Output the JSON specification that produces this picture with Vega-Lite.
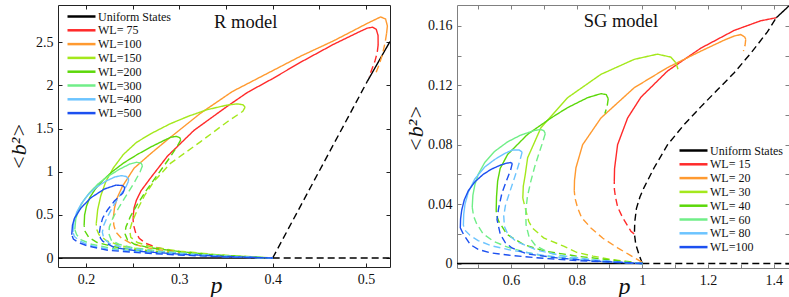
{
"$schema": "https://vega.github.io/schema/vega-lite/v6.json",
"background": "white",
"padding": {"left": 6, "top": 4, "right": 0, "bottom": 0},
"bounds": "flush",
"spacing": 67,
"config": {
  "font": "Liberation Serif, DejaVu Serif, serif",
  "axis": {"labelFont": "Liberation Serif, DejaVu Serif, serif", "labelFontSize": 14, "labelColor": "#111", "grid": false, "domain": false, "tickSize": -4, "tickWidth": 1, "labelPadding": 9, "format": "~g", "titleFont": "Liberation Serif, DejaVu Serif, serif", "titleFontWeight": "normal", "titleColor": "#111"},
  "legend": {"orient": "none", "title": null, "symbolType": "M-1,0H4.6", "symbolSize": 100, "symbolStrokeWidth": 2.5, "labelFont": "Liberation Serif, DejaVu Serif, serif", "labelFontSize": 12, "labelColor": "#111", "labelOffset": 19, "rowPadding": 0.8, "padding": 0}
},
"resolve": {"scale": {"color": "independent", "strokeDash": "independent"}},
"datasets": {
"R": [
{"s":"Uniform States","g":"u0","d":"solid","i":0,"p":0.17,"b":0},
{"s":"Uniform States","g":"u0","d":"solid","i":1,"p":0.4,"b":0},
{"s":"Uniform States","g":"u1","d":"dashed","i":0,"p":0.4,"b":0},
{"s":"Uniform States","g":"u1","d":"dashed","i":1,"p":0.5257,"b":0},
{"s":"Uniform States","g":"u2","d":"dashed","i":0,"p":0.4,"b":0},
{"s":"Uniform States","g":"u2","d":"dashed","i":1,"p":0.45,"b":1.01},
{"s":"Uniform States","g":"u2","d":"dashed","i":2,"p":0.5015,"b":2.05},
{"s":"Uniform States","g":"u3","d":"solid","i":0,"p":0.5015,"b":2.05},
{"s":"Uniform States","g":"u3","d":"solid","i":1,"p":0.5257,"b":2.51},

{"s":"WL= 75","g":"a","d":"dashed","i":0,"p":0.4,"b":0},
{"s":"WL= 75","g":"a","d":"dashed","i":1,"p":0.37,"b":0.012},
{"s":"WL= 75","g":"a","d":"dashed","i":2,"p":0.34,"b":0.03},
{"s":"WL= 75","g":"a","d":"dashed","i":3,"p":0.31,"b":0.058},
{"s":"WL= 75","g":"a","d":"dashed","i":4,"p":0.29,"b":0.088},
{"s":"WL= 75","g":"a","d":"dashed","i":5,"p":0.275,"b":0.125},
{"s":"WL= 75","g":"a","d":"dashed","i":6,"p":0.264,"b":0.17},
{"s":"WL= 75","g":"a","d":"dashed","i":7,"p":0.257,"b":0.23},
{"s":"WL= 75","g":"a","d":"dashed","i":8,"p":0.253,"b":0.3},
{"s":"WL= 75","g":"a","d":"dashed","i":9,"p":0.251,"b":0.38},
{"s":"WL= 75","g":"a","d":"dashed","i":10,"p":0.2505,"b":0.44},
{"s":"WL= 75","g":"a","d":"dashed","i":11,"p":0.2507,"b":0.5},
{"s":"WL= 75","g":"b","d":"solid","i":0,"p":0.2507,"b":0.5},
{"s":"WL= 75","g":"b","d":"solid","i":1,"p":0.2515,"b":0.58},
{"s":"WL= 75","g":"b","d":"solid","i":2,"p":0.254,"b":0.67},
{"s":"WL= 75","g":"b","d":"solid","i":3,"p":0.259,"b":0.78},
{"s":"WL= 75","g":"b","d":"solid","i":4,"p":0.2693,"b":0.93},
{"s":"WL= 75","g":"b","d":"solid","i":5,"p":0.2872,"b":1.18},
{"s":"WL= 75","g":"b","d":"solid","i":6,"p":0.3157,"b":1.48},
{"s":"WL= 75","g":"b","d":"solid","i":7,"p":0.3515,"b":1.76},
{"s":"WL= 75","g":"b","d":"solid","i":8,"p":0.373,"b":1.92},
{"s":"WL= 75","g":"b","d":"solid","i":9,"p":0.4,"b":2.08},
{"s":"WL= 75","g":"b","d":"solid","i":10,"p":0.43,"b":2.27},
{"s":"WL= 75","g":"b","d":"solid","i":11,"p":0.4657,"b":2.48},
{"s":"WL= 75","g":"b","d":"solid","i":12,"p":0.4943,"b":2.63},
{"s":"WL= 75","g":"b","d":"solid","i":13,"p":0.5014,"b":2.665},
{"s":"WL= 75","g":"b","d":"solid","i":14,"p":0.507,"b":2.675},
{"s":"WL= 75","g":"b","d":"solid","i":15,"p":0.511,"b":2.65},
{"s":"WL= 75","g":"b","d":"solid","i":16,"p":0.5129,"b":2.58},
{"s":"WL= 75","g":"b","d":"solid","i":17,"p":0.513,"b":2.47},
{"s":"WL= 75","g":"c","d":"dashed","i":0,"p":0.513,"b":2.47},
{"s":"WL= 75","g":"c","d":"dashed","i":1,"p":0.512,"b":2.38},
{"s":"WL= 75","g":"c","d":"dashed","i":2,"p":0.5095,"b":2.28},
{"s":"WL= 75","g":"c","d":"dashed","i":3,"p":0.506,"b":2.18},
{"s":"WL= 75","g":"c","d":"dashed","i":4,"p":0.5033,"b":2.1},

{"s":"WL=100","g":"a","d":"dashed","i":0,"p":0.4,"b":0},
{"s":"WL=100","g":"a","d":"dashed","i":1,"p":0.36,"b":0.015},
{"s":"WL=100","g":"a","d":"dashed","i":2,"p":0.32,"b":0.04},
{"s":"WL=100","g":"a","d":"dashed","i":3,"p":0.29,"b":0.075},
{"s":"WL=100","g":"a","d":"dashed","i":4,"p":0.265,"b":0.12},
{"s":"WL=100","g":"a","d":"dashed","i":5,"p":0.248,"b":0.17},
{"s":"WL=100","g":"a","d":"dashed","i":6,"p":0.238,"b":0.23},
{"s":"WL=100","g":"a","d":"dashed","i":7,"p":0.232,"b":0.3},
{"s":"WL=100","g":"a","d":"dashed","i":8,"p":0.2298,"b":0.38},
{"s":"WL=100","g":"a","d":"dashed","i":9,"p":0.2293,"b":0.465},
{"s":"WL=100","g":"b","d":"solid","i":0,"p":0.2293,"b":0.465},
{"s":"WL=100","g":"b","d":"solid","i":1,"p":0.2305,"b":0.58},
{"s":"WL=100","g":"b","d":"solid","i":2,"p":0.2335,"b":0.7},
{"s":"WL=100","g":"b","d":"solid","i":3,"p":0.239,"b":0.83},
{"s":"WL=100","g":"b","d":"solid","i":4,"p":0.2514,"b":1.04},
{"s":"WL=100","g":"b","d":"solid","i":5,"p":0.2693,"b":1.21},
{"s":"WL=100","g":"b","d":"solid","i":6,"p":0.2871,"b":1.37},
{"s":"WL=100","g":"b","d":"solid","i":7,"p":0.3229,"b":1.68},
{"s":"WL=100","g":"b","d":"solid","i":8,"p":0.3568,"b":1.93},
{"s":"WL=100","g":"b","d":"solid","i":9,"p":0.3943,"b":2.14},
{"s":"WL=100","g":"b","d":"solid","i":10,"p":0.43,"b":2.34},
{"s":"WL=100","g":"b","d":"solid","i":11,"p":0.4657,"b":2.52},
{"s":"WL=100","g":"b","d":"solid","i":12,"p":0.5014,"b":2.72},
{"s":"WL=100","g":"b","d":"solid","i":13,"p":0.5157,"b":2.795},
{"s":"WL=100","g":"b","d":"solid","i":14,"p":0.521,"b":2.77},
{"s":"WL=100","g":"b","d":"solid","i":15,"p":0.5229,"b":2.69},
{"s":"WL=100","g":"b","d":"solid","i":16,"p":0.522,"b":2.6},
{"s":"WL=100","g":"c","d":"dashed","i":0,"p":0.522,"b":2.6},
{"s":"WL=100","g":"c","d":"dashed","i":1,"p":0.5205,"b":2.5},
{"s":"WL=100","g":"c","d":"dashed","i":2,"p":0.5176,"b":2.36},
{"s":"WL=100","g":"c","d":"dashed","i":3,"p":0.514,"b":2.24},
{"s":"WL=100","g":"c","d":"dashed","i":4,"p":0.5104,"b":2.14},

{"s":"WL=150","g":"a","d":"dashed","i":0,"p":0.4,"b":0},
{"s":"WL=150","g":"a","d":"dashed","i":1,"p":0.35,"b":0.022},
{"s":"WL=150","g":"a","d":"dashed","i":2,"p":0.3,"b":0.055},
{"s":"WL=150","g":"a","d":"dashed","i":3,"p":0.265,"b":0.09},
{"s":"WL=150","g":"a","d":"dashed","i":4,"p":0.238,"b":0.14},
{"s":"WL=150","g":"a","d":"dashed","i":5,"p":0.222,"b":0.2},
{"s":"WL=150","g":"a","d":"dashed","i":6,"p":0.214,"b":0.27},
{"s":"WL=150","g":"a","d":"dashed","i":7,"p":0.2112,"b":0.34},
{"s":"WL=150","g":"a","d":"dashed","i":8,"p":0.211,"b":0.4},
{"s":"WL=150","g":"b","d":"solid","i":0,"p":0.211,"b":0.4},
{"s":"WL=150","g":"b","d":"solid","i":1,"p":0.2125,"b":0.56},
{"s":"WL=150","g":"b","d":"solid","i":2,"p":0.2158,"b":0.72},
{"s":"WL=150","g":"b","d":"solid","i":3,"p":0.221,"b":0.88},
{"s":"WL=150","g":"b","d":"solid","i":4,"p":0.229,"b":1.04},
{"s":"WL=150","g":"b","d":"solid","i":5,"p":0.24,"b":1.2},
{"s":"WL=150","g":"b","d":"solid","i":6,"p":0.254,"b":1.34},
{"s":"WL=150","g":"b","d":"solid","i":7,"p":0.2693,"b":1.44},
{"s":"WL=150","g":"b","d":"solid","i":8,"p":0.29,"b":1.555},
{"s":"WL=150","g":"b","d":"solid","i":9,"p":0.31,"b":1.645},
{"s":"WL=150","g":"b","d":"solid","i":10,"p":0.33,"b":1.72},
{"s":"WL=150","g":"b","d":"solid","i":11,"p":0.35,"b":1.77},
{"s":"WL=150","g":"b","d":"solid","i":12,"p":0.362,"b":1.787},
{"s":"WL=150","g":"b","d":"solid","i":13,"p":0.368,"b":1.777},
{"s":"WL=150","g":"b","d":"solid","i":14,"p":0.3705,"b":1.75},
{"s":"WL=150","g":"c","d":"dashed","i":0,"p":0.3705,"b":1.75},
{"s":"WL=150","g":"c","d":"dashed","i":1,"p":0.368,"b":1.7},
{"s":"WL=150","g":"c","d":"dashed","i":2,"p":0.3515,"b":1.58},
{"s":"WL=150","g":"c","d":"dashed","i":3,"p":0.3229,"b":1.35},
{"s":"WL=150","g":"c","d":"dashed","i":4,"p":0.2908,"b":1.1},
{"s":"WL=150","g":"c","d":"dashed","i":5,"p":0.2729,"b":0.89},
{"s":"WL=150","g":"c","d":"dashed","i":6,"p":0.263,"b":0.73},
{"s":"WL=150","g":"c","d":"dashed","i":7,"p":0.2555,"b":0.57},
{"s":"WL=150","g":"c","d":"dashed","i":8,"p":0.2495,"b":0.42},
{"s":"WL=150","g":"c","d":"dashed","i":9,"p":0.2468,"b":0.32},
{"s":"WL=150","g":"c","d":"dashed","i":10,"p":0.248,"b":0.24},
{"s":"WL=150","g":"c","d":"dashed","i":11,"p":0.255,"b":0.18},
{"s":"WL=150","g":"c","d":"dashed","i":12,"p":0.27,"b":0.13},
{"s":"WL=150","g":"c","d":"dashed","i":13,"p":0.3,"b":0.08},
{"s":"WL=150","g":"c","d":"dashed","i":14,"p":0.34,"b":0.04},
{"s":"WL=150","g":"c","d":"dashed","i":15,"p":0.4,"b":0},

{"s":"WL=200","g":"a","d":"dashed","i":0,"p":0.4,"b":0},
{"s":"WL=200","g":"a","d":"dashed","i":1,"p":0.35,"b":0.02},
{"s":"WL=200","g":"a","d":"dashed","i":2,"p":0.3,"b":0.05},
{"s":"WL=200","g":"a","d":"dashed","i":3,"p":0.26,"b":0.085},
{"s":"WL=200","g":"a","d":"dashed","i":4,"p":0.23,"b":0.13},
{"s":"WL=200","g":"a","d":"dashed","i":5,"p":0.212,"b":0.18},
{"s":"WL=200","g":"a","d":"dashed","i":6,"p":0.203,"b":0.24},
{"s":"WL=200","g":"a","d":"dashed","i":7,"p":0.199,"b":0.31},
{"s":"WL=200","g":"a","d":"dashed","i":8,"p":0.198,"b":0.38},
{"s":"WL=200","g":"b","d":"solid","i":0,"p":0.198,"b":0.38},
{"s":"WL=200","g":"b","d":"solid","i":1,"p":0.1985,"b":0.5},
{"s":"WL=200","g":"b","d":"solid","i":2,"p":0.2005,"b":0.6},
{"s":"WL=200","g":"b","d":"solid","i":3,"p":0.204,"b":0.7},
{"s":"WL=200","g":"b","d":"solid","i":4,"p":0.21,"b":0.8},
{"s":"WL=200","g":"b","d":"solid","i":5,"p":0.218,"b":0.9},
{"s":"WL=200","g":"b","d":"solid","i":6,"p":0.228,"b":1.0},
{"s":"WL=200","g":"b","d":"solid","i":7,"p":0.24,"b":1.1},
{"s":"WL=200","g":"b","d":"solid","i":8,"p":0.255,"b":1.2},
{"s":"WL=200","g":"b","d":"solid","i":9,"p":0.27,"b":1.29},
{"s":"WL=200","g":"b","d":"solid","i":10,"p":0.283,"b":1.36},
{"s":"WL=200","g":"b","d":"solid","i":11,"p":0.2907,"b":1.4},
{"s":"WL=200","g":"b","d":"solid","i":12,"p":0.297,"b":1.41},
{"s":"WL=200","g":"b","d":"solid","i":13,"p":0.3005,"b":1.395},
{"s":"WL=200","g":"b","d":"solid","i":14,"p":0.3015,"b":1.37},
{"s":"WL=200","g":"c","d":"dashed","i":0,"p":0.3015,"b":1.37},
{"s":"WL=200","g":"c","d":"dashed","i":1,"p":0.298,"b":1.3},
{"s":"WL=200","g":"c","d":"dashed","i":2,"p":0.2908,"b":1.18},
{"s":"WL=200","g":"c","d":"dashed","i":3,"p":0.2836,"b":1.07},
{"s":"WL=200","g":"c","d":"dashed","i":4,"p":0.275,"b":0.94},
{"s":"WL=200","g":"c","d":"dashed","i":5,"p":0.265,"b":0.79},
{"s":"WL=200","g":"c","d":"dashed","i":6,"p":0.2555,"b":0.63},
{"s":"WL=200","g":"c","d":"dashed","i":7,"p":0.2475,"b":0.48},
{"s":"WL=200","g":"c","d":"dashed","i":8,"p":0.2428,"b":0.36},
{"s":"WL=200","g":"c","d":"dashed","i":9,"p":0.2418,"b":0.28},
{"s":"WL=200","g":"c","d":"dashed","i":10,"p":0.2445,"b":0.21},
{"s":"WL=200","g":"c","d":"dashed","i":11,"p":0.252,"b":0.16},
{"s":"WL=200","g":"c","d":"dashed","i":12,"p":0.268,"b":0.12},
{"s":"WL=200","g":"c","d":"dashed","i":13,"p":0.3,"b":0.075},
{"s":"WL=200","g":"c","d":"dashed","i":14,"p":0.34,"b":0.035},
{"s":"WL=200","g":"c","d":"dashed","i":15,"p":0.4,"b":0},

{"s":"WL=300","g":"a","d":"dashed","i":0,"p":0.4,"b":0},
{"s":"WL=300","g":"a","d":"dashed","i":1,"p":0.35,"b":0.016},
{"s":"WL=300","g":"a","d":"dashed","i":2,"p":0.3,"b":0.045},
{"s":"WL=300","g":"a","d":"dashed","i":3,"p":0.26,"b":0.075},
{"s":"WL=300","g":"a","d":"dashed","i":4,"p":0.228,"b":0.11},
{"s":"WL=300","g":"a","d":"dashed","i":5,"p":0.206,"b":0.16},
{"s":"WL=300","g":"a","d":"dashed","i":6,"p":0.195,"b":0.21},
{"s":"WL=300","g":"a","d":"dashed","i":7,"p":0.19,"b":0.27},
{"s":"WL=300","g":"a","d":"dashed","i":8,"p":0.188,"b":0.33},
{"s":"WL=300","g":"b","d":"solid","i":0,"p":0.188,"b":0.33},
{"s":"WL=300","g":"b","d":"solid","i":1,"p":0.189,"b":0.45},
{"s":"WL=300","g":"b","d":"solid","i":2,"p":0.192,"b":0.56},
{"s":"WL=300","g":"b","d":"solid","i":3,"p":0.197,"b":0.66},
{"s":"WL=300","g":"b","d":"solid","i":4,"p":0.204,"b":0.76},
{"s":"WL=300","g":"b","d":"solid","i":5,"p":0.213,"b":0.86},
{"s":"WL=300","g":"b","d":"solid","i":6,"p":0.224,"b":0.95},
{"s":"WL=300","g":"b","d":"solid","i":7,"p":0.236,"b":1.03},
{"s":"WL=300","g":"b","d":"solid","i":8,"p":0.247,"b":1.09},
{"s":"WL=300","g":"b","d":"solid","i":9,"p":0.254,"b":1.11},
{"s":"WL=300","g":"b","d":"solid","i":10,"p":0.259,"b":1.1},
{"s":"WL=300","g":"b","d":"solid","i":11,"p":0.2605,"b":1.07},
{"s":"WL=300","g":"c","d":"dashed","i":0,"p":0.2605,"b":1.07},
{"s":"WL=300","g":"c","d":"dashed","i":1,"p":0.258,"b":1.0},
{"s":"WL=300","g":"c","d":"dashed","i":2,"p":0.252,"b":0.88},
{"s":"WL=300","g":"c","d":"dashed","i":3,"p":0.244,"b":0.74},
{"s":"WL=300","g":"c","d":"dashed","i":4,"p":0.236,"b":0.6},
{"s":"WL=300","g":"c","d":"dashed","i":5,"p":0.229,"b":0.47},
{"s":"WL=300","g":"c","d":"dashed","i":6,"p":0.225,"b":0.36},
{"s":"WL=300","g":"c","d":"dashed","i":7,"p":0.2245,"b":0.28},
{"s":"WL=300","g":"c","d":"dashed","i":8,"p":0.227,"b":0.21},
{"s":"WL=300","g":"c","d":"dashed","i":9,"p":0.235,"b":0.16},
{"s":"WL=300","g":"c","d":"dashed","i":10,"p":0.25,"b":0.12},
{"s":"WL=300","g":"c","d":"dashed","i":11,"p":0.28,"b":0.08},
{"s":"WL=300","g":"c","d":"dashed","i":12,"p":0.32,"b":0.045},
{"s":"WL=300","g":"c","d":"dashed","i":13,"p":0.36,"b":0.02},
{"s":"WL=300","g":"c","d":"dashed","i":14,"p":0.4,"b":0},

{"s":"WL=400","g":"a","d":"dashed","i":0,"p":0.4,"b":0},
{"s":"WL=400","g":"a","d":"dashed","i":1,"p":0.35,"b":0.014},
{"s":"WL=400","g":"a","d":"dashed","i":2,"p":0.3,"b":0.04},
{"s":"WL=400","g":"a","d":"dashed","i":3,"p":0.26,"b":0.068},
{"s":"WL=400","g":"a","d":"dashed","i":4,"p":0.225,"b":0.1},
{"s":"WL=400","g":"a","d":"dashed","i":5,"p":0.203,"b":0.15},
{"s":"WL=400","g":"a","d":"dashed","i":6,"p":0.193,"b":0.2},
{"s":"WL=400","g":"a","d":"dashed","i":7,"p":0.1875,"b":0.25},
{"s":"WL=400","g":"a","d":"dashed","i":8,"p":0.186,"b":0.3},
{"s":"WL=400","g":"b","d":"solid","i":0,"p":0.186,"b":0.3},
{"s":"WL=400","g":"b","d":"solid","i":1,"p":0.187,"b":0.42},
{"s":"WL=400","g":"b","d":"solid","i":2,"p":0.19,"b":0.53},
{"s":"WL=400","g":"b","d":"solid","i":3,"p":0.195,"b":0.63},
{"s":"WL=400","g":"b","d":"solid","i":4,"p":0.202,"b":0.73},
{"s":"WL=400","g":"b","d":"solid","i":5,"p":0.211,"b":0.82},
{"s":"WL=400","g":"b","d":"solid","i":6,"p":0.221,"b":0.89},
{"s":"WL=400","g":"b","d":"solid","i":7,"p":0.231,"b":0.94},
{"s":"WL=400","g":"b","d":"solid","i":8,"p":0.238,"b":0.955},
{"s":"WL=400","g":"b","d":"solid","i":9,"p":0.243,"b":0.945},
{"s":"WL=400","g":"b","d":"solid","i":10,"p":0.2455,"b":0.92},
{"s":"WL=400","g":"b","d":"solid","i":11,"p":0.2455,"b":0.89},
{"s":"WL=400","g":"c","d":"dashed","i":0,"p":0.2455,"b":0.89},
{"s":"WL=400","g":"c","d":"dashed","i":1,"p":0.243,"b":0.83},
{"s":"WL=400","g":"c","d":"dashed","i":2,"p":0.236,"b":0.72},
{"s":"WL=400","g":"c","d":"dashed","i":3,"p":0.229,"b":0.6},
{"s":"WL=400","g":"c","d":"dashed","i":4,"p":0.223,"b":0.48},
{"s":"WL=400","g":"c","d":"dashed","i":5,"p":0.219,"b":0.38},
{"s":"WL=400","g":"c","d":"dashed","i":6,"p":0.2175,"b":0.3},
{"s":"WL=400","g":"c","d":"dashed","i":7,"p":0.219,"b":0.23},
{"s":"WL=400","g":"c","d":"dashed","i":8,"p":0.225,"b":0.17},
{"s":"WL=400","g":"c","d":"dashed","i":9,"p":0.24,"b":0.12},
{"s":"WL=400","g":"c","d":"dashed","i":10,"p":0.27,"b":0.08},
{"s":"WL=400","g":"c","d":"dashed","i":11,"p":0.31,"b":0.045},
{"s":"WL=400","g":"c","d":"dashed","i":12,"p":0.35,"b":0.02},
{"s":"WL=400","g":"c","d":"dashed","i":13,"p":0.4,"b":0},

{"s":"WL=500","g":"a","d":"dashed","i":0,"p":0.4,"b":0},
{"s":"WL=500","g":"a","d":"dashed","i":1,"p":0.35,"b":0.012},
{"s":"WL=500","g":"a","d":"dashed","i":2,"p":0.3,"b":0.035},
{"s":"WL=500","g":"a","d":"dashed","i":3,"p":0.259,"b":0.06},
{"s":"WL=500","g":"a","d":"dashed","i":4,"p":0.2232,"b":0.09},
{"s":"WL=500","g":"a","d":"dashed","i":5,"p":0.2018,"b":0.14},
{"s":"WL=500","g":"a","d":"dashed","i":6,"p":0.192,"b":0.18},
{"s":"WL=500","g":"a","d":"dashed","i":7,"p":0.1865,"b":0.22},
{"s":"WL=500","g":"a","d":"dashed","i":8,"p":0.1847,"b":0.27},
{"s":"WL=500","g":"b","d":"solid","i":0,"p":0.1847,"b":0.27},
{"s":"WL=500","g":"b","d":"solid","i":1,"p":0.1855,"b":0.38},
{"s":"WL=500","g":"b","d":"solid","i":2,"p":0.1876,"b":0.46},
{"s":"WL=500","g":"b","d":"solid","i":3,"p":0.1946,"b":0.58},
{"s":"WL=500","g":"b","d":"solid","i":4,"p":0.2054,"b":0.7},
{"s":"WL=500","g":"b","d":"solid","i":5,"p":0.2197,"b":0.8},
{"s":"WL=500","g":"b","d":"solid","i":6,"p":0.2321,"b":0.845},
{"s":"WL=500","g":"b","d":"solid","i":7,"p":0.2393,"b":0.84},
{"s":"WL=500","g":"b","d":"solid","i":8,"p":0.2415,"b":0.815},
{"s":"WL=500","g":"b","d":"solid","i":9,"p":0.241,"b":0.79},
{"s":"WL=500","g":"c","d":"dashed","i":0,"p":0.241,"b":0.79},
{"s":"WL=500","g":"c","d":"dashed","i":1,"p":0.2393,"b":0.75},
{"s":"WL=500","g":"c","d":"dashed","i":2,"p":0.2304,"b":0.66},
{"s":"WL=500","g":"c","d":"dashed","i":3,"p":0.2232,"b":0.56},
{"s":"WL=500","g":"c","d":"dashed","i":4,"p":0.2179,"b":0.465},
{"s":"WL=500","g":"c","d":"dashed","i":5,"p":0.2154,"b":0.37},
{"s":"WL=500","g":"c","d":"dashed","i":6,"p":0.2143,"b":0.29},
{"s":"WL=500","g":"c","d":"dashed","i":7,"p":0.2155,"b":0.23},
{"s":"WL=500","g":"c","d":"dashed","i":8,"p":0.2179,"b":0.196},
{"s":"WL=500","g":"c","d":"dashed","i":9,"p":0.2304,"b":0.12},
{"s":"WL=500","g":"c","d":"dashed","i":10,"p":0.26,"b":0.075},
{"s":"WL=500","g":"c","d":"dashed","i":11,"p":0.3,"b":0.045},
{"s":"WL=500","g":"c","d":"dashed","i":12,"p":0.35,"b":0.018},
{"s":"WL=500","g":"c","d":"dashed","i":13,"p":0.4,"b":0}
],
"SG": [
{"s":"Uniform States","g":"u0","d":"solid","i":0,"p":0.4356,"b":0},
{"s":"Uniform States","g":"u0","d":"solid","i":1,"p":1.0,"b":0},
{"s":"Uniform States","g":"u1","d":"dashed","i":0,"p":1.0,"b":0},
{"s":"Uniform States","g":"u1","d":"dashed","i":1,"p":1.4468,"b":0},
{"s":"Uniform States","g":"u2","d":"dashed","i":0,"p":1.0,"b":0},
{"s":"Uniform States","g":"u2","d":"dashed","i":1,"p":0.99,"b":0.006},
{"s":"Uniform States","g":"u2","d":"dashed","i":2,"p":0.98,"b":0.013},
{"s":"Uniform States","g":"u2","d":"dashed","i":3,"p":0.976,"b":0.02},
{"s":"Uniform States","g":"u2","d":"dashed","i":4,"p":0.977,"b":0.028},
{"s":"Uniform States","g":"u2","d":"dashed","i":5,"p":0.982,"b":0.037},
{"s":"Uniform States","g":"u2","d":"dashed","i":6,"p":0.993,"b":0.045},
{"s":"Uniform States","g":"u2","d":"dashed","i":7,"p":1.006,"b":0.0515},
{"s":"Uniform States","g":"u2","d":"dashed","i":8,"p":1.036,"b":0.0645},
{"s":"Uniform States","g":"u2","d":"dashed","i":9,"p":1.077,"b":0.08},
{"s":"Uniform States","g":"u2","d":"dashed","i":10,"p":1.128,"b":0.0937},
{"s":"Uniform States","g":"u2","d":"dashed","i":11,"p":1.178,"b":0.1055},
{"s":"Uniform States","g":"u2","d":"dashed","i":12,"p":1.229,"b":0.117},
{"s":"Uniform States","g":"u2","d":"dashed","i":13,"p":1.28,"b":0.1285},
{"s":"Uniform States","g":"u2","d":"dashed","i":14,"p":1.33,"b":0.1415},
{"s":"Uniform States","g":"u2","d":"dashed","i":15,"p":1.381,"b":0.156},
{"s":"Uniform States","g":"u2","d":"dashed","i":16,"p":1.408,"b":0.1655},
{"s":"Uniform States","g":"u3","d":"solid","i":0,"p":1.408,"b":0.1655},
{"s":"Uniform States","g":"u3","d":"solid","i":1,"p":1.4468,"b":0.1735},

{"s":"WL= 15","g":"a","d":"dashed","i":0,"p":0.975,"b":0.02},
{"s":"WL= 15","g":"a","d":"dashed","i":1,"p":0.9653,"b":0.0218},
{"s":"WL= 15","g":"a","d":"dashed","i":2,"p":0.94,"b":0.031},
{"s":"WL= 15","g":"a","d":"dashed","i":3,"p":0.925,"b":0.038},
{"s":"WL= 15","g":"a","d":"dashed","i":4,"p":0.918,"b":0.045},
{"s":"WL= 15","g":"a","d":"dashed","i":5,"p":0.915,"b":0.05},
{"s":"WL= 15","g":"a","d":"dashed","i":6,"p":0.9146,"b":0.055},
{"s":"WL= 15","g":"b","d":"solid","i":0,"p":0.9146,"b":0.055},
{"s":"WL= 15","g":"b","d":"solid","i":1,"p":0.9155,"b":0.064},
{"s":"WL= 15","g":"b","d":"solid","i":2,"p":0.9247,"b":0.08},
{"s":"WL= 15","g":"b","d":"solid","i":3,"p":0.9552,"b":0.098},
{"s":"WL= 15","g":"b","d":"solid","i":4,"p":0.9957,"b":0.112},
{"s":"WL= 15","g":"b","d":"solid","i":5,"p":1.077,"b":0.1297},
{"s":"WL= 15","g":"b","d":"solid","i":6,"p":1.178,"b":0.145},
{"s":"WL= 15","g":"b","d":"solid","i":7,"p":1.28,"b":0.157},
{"s":"WL= 15","g":"b","d":"solid","i":8,"p":1.361,"b":0.1635},
{"s":"WL= 15","g":"b","d":"solid","i":9,"p":1.408,"b":0.1655},

{"s":"WL= 20","g":"a","d":"dashed","i":0,"p":0.999,"b":0.001},
{"s":"WL= 20","g":"a","d":"dashed","i":1,"p":0.96,"b":0.006},
{"s":"WL= 20","g":"a","d":"dashed","i":2,"p":0.9247,"b":0.0106},
{"s":"WL= 20","g":"a","d":"dashed","i":3,"p":0.88,"b":0.017},
{"s":"WL= 20","g":"a","d":"dashed","i":4,"p":0.8435,"b":0.024},
{"s":"WL= 20","g":"a","d":"dashed","i":5,"p":0.815,"b":0.031},
{"s":"WL= 20","g":"a","d":"dashed","i":6,"p":0.803,"b":0.0375},
{"s":"WL= 20","g":"a","d":"dashed","i":7,"p":0.795,"b":0.044},
{"s":"WL= 20","g":"a","d":"dashed","i":8,"p":0.7928,"b":0.049},
{"s":"WL= 20","g":"b","d":"solid","i":0,"p":0.7928,"b":0.049},
{"s":"WL= 20","g":"b","d":"solid","i":1,"p":0.7935,"b":0.056},
{"s":"WL= 20","g":"b","d":"solid","i":2,"p":0.7979,"b":0.0645},
{"s":"WL= 20","g":"b","d":"solid","i":3,"p":0.8182,"b":0.08},
{"s":"WL= 20","g":"b","d":"solid","i":4,"p":0.874,"b":0.098},
{"s":"WL= 20","g":"b","d":"solid","i":5,"p":0.9754,"b":0.1184},
{"s":"WL= 20","g":"b","d":"solid","i":6,"p":1.077,"b":0.132},
{"s":"WL= 20","g":"b","d":"solid","i":7,"p":1.178,"b":0.143},
{"s":"WL= 20","g":"b","d":"solid","i":8,"p":1.25,"b":0.1505},
{"s":"WL= 20","g":"b","d":"solid","i":9,"p":1.28,"b":0.1532},
{"s":"WL= 20","g":"b","d":"solid","i":10,"p":1.3,"b":0.1542},
{"s":"WL= 20","g":"b","d":"solid","i":11,"p":1.312,"b":0.1525},
{"s":"WL= 20","g":"b","d":"solid","i":12,"p":1.315,"b":0.151},
{"s":"WL= 20","g":"c","d":"dashed","i":0,"p":1.315,"b":0.151},
{"s":"WL= 20","g":"c","d":"dashed","i":1,"p":1.313,"b":0.147},
{"s":"WL= 20","g":"c","d":"dashed","i":2,"p":1.308,"b":0.143},

{"s":"WL= 30","g":"a","d":"dashed","i":0,"p":1.0,"b":0},
{"s":"WL= 30","g":"a","d":"dashed","i":1,"p":0.95,"b":0.0015},
{"s":"WL= 30","g":"a","d":"dashed","i":2,"p":0.9,"b":0.003},
{"s":"WL= 30","g":"a","d":"dashed","i":3,"p":0.85,"b":0.005},
{"s":"WL= 30","g":"a","d":"dashed","i":4,"p":0.8,"b":0.0075},
{"s":"WL= 30","g":"a","d":"dashed","i":5,"p":0.7604,"b":0.0117},
{"s":"WL= 30","g":"a","d":"dashed","i":6,"p":0.6995,"b":0.0173},
{"s":"WL= 30","g":"a","d":"dashed","i":7,"p":0.665,"b":0.024},
{"s":"WL= 30","g":"a","d":"dashed","i":8,"p":0.654,"b":0.0285},
{"s":"WL= 30","g":"a","d":"dashed","i":9,"p":0.645,"b":0.036},
{"s":"WL= 30","g":"a","d":"dashed","i":10,"p":0.636,"b":0.044},
{"s":"WL= 30","g":"b","d":"solid","i":0,"p":0.636,"b":0.044},
{"s":"WL= 30","g":"b","d":"solid","i":1,"p":0.6375,"b":0.052},
{"s":"WL= 30","g":"b","d":"solid","i":2,"p":0.6436,"b":0.06},
{"s":"WL= 30","g":"b","d":"solid","i":3,"p":0.6507,"b":0.0712},
{"s":"WL= 30","g":"b","d":"solid","i":4,"p":0.6913,"b":0.0915},
{"s":"WL= 30","g":"b","d":"solid","i":5,"p":0.7725,"b":0.1117},
{"s":"WL= 30","g":"b","d":"solid","i":6,"p":0.874,"b":0.1274},
{"s":"WL= 30","g":"b","d":"solid","i":7,"p":0.9754,"b":0.1375},
{"s":"WL= 30","g":"b","d":"solid","i":8,"p":1.046,"b":0.141},
{"s":"WL= 30","g":"b","d":"solid","i":9,"p":1.087,"b":0.139},
{"s":"WL= 30","g":"b","d":"solid","i":10,"p":1.102,"b":0.1353},
{"s":"WL= 30","g":"c","d":"dashed","i":0,"p":1.102,"b":0.1353},
{"s":"WL= 30","g":"c","d":"dashed","i":1,"p":1.107,"b":0.132},
{"s":"WL= 30","g":"c","d":"dashed","i":2,"p":1.112,"b":0.1285},

{"s":"WL= 40","g":"a","d":"dashed","i":0,"p":1.0,"b":0},
{"s":"WL= 40","g":"a","d":"dashed","i":1,"p":0.9,"b":0.0025},
{"s":"WL= 40","g":"a","d":"dashed","i":2,"p":0.8,"b":0.005},
{"s":"WL= 40","g":"a","d":"dashed","i":3,"p":0.7,"b":0.0085},
{"s":"WL= 40","g":"a","d":"dashed","i":4,"p":0.6387,"b":0.0128},
{"s":"WL= 40","g":"a","d":"dashed","i":5,"p":0.5878,"b":0.0196},
{"s":"WL= 40","g":"a","d":"dashed","i":6,"p":0.5626,"b":0.0285},
{"s":"WL= 40","g":"a","d":"dashed","i":7,"p":0.5555,"b":0.033},
{"s":"WL= 40","g":"a","d":"dashed","i":8,"p":0.555,"b":0.036},
{"s":"WL= 40","g":"b","d":"solid","i":0,"p":0.555,"b":0.036},
{"s":"WL= 40","g":"b","d":"solid","i":1,"p":0.556,"b":0.045},
{"s":"WL= 40","g":"b","d":"solid","i":2,"p":0.5594,"b":0.0555},
{"s":"WL= 40","g":"b","d":"solid","i":3,"p":0.567,"b":0.064},
{"s":"WL= 40","g":"b","d":"solid","i":4,"p":0.5899,"b":0.0735},
{"s":"WL= 40","g":"b","d":"solid","i":5,"p":0.6507,"b":0.087},
{"s":"WL= 40","g":"b","d":"solid","i":6,"p":0.7218,"b":0.098},
{"s":"WL= 40","g":"b","d":"solid","i":7,"p":0.7725,"b":0.105},
{"s":"WL= 40","g":"b","d":"solid","i":8,"p":0.8334,"b":0.1117},
{"s":"WL= 40","g":"b","d":"solid","i":9,"p":0.874,"b":0.1144},
{"s":"WL= 40","g":"b","d":"solid","i":10,"p":0.89,"b":0.1138},
{"s":"WL= 40","g":"b","d":"solid","i":11,"p":0.8963,"b":0.111},
{"s":"WL= 40","g":"c","d":"dashed","i":0,"p":0.8963,"b":0.111},
{"s":"WL= 40","g":"c","d":"dashed","i":1,"p":0.893,"b":0.106},
{"s":"WL= 40","g":"c","d":"dashed","i":2,"p":0.886,"b":0.101},

{"s":"WL= 60","g":"a","d":"dashed","i":0,"p":1.0,"b":0},
{"s":"WL= 60","g":"a","d":"dashed","i":1,"p":0.9,"b":0.0015},
{"s":"WL= 60","g":"a","d":"dashed","i":2,"p":0.8,"b":0.003},
{"s":"WL= 60","g":"a","d":"dashed","i":3,"p":0.7,"b":0.005},
{"s":"WL= 60","g":"a","d":"dashed","i":4,"p":0.64,"b":0.008},
{"s":"WL= 60","g":"a","d":"dashed","i":5,"p":0.59,"b":0.011},
{"s":"WL= 60","g":"a","d":"dashed","i":6,"p":0.547,"b":0.015},
{"s":"WL= 60","g":"a","d":"dashed","i":7,"p":0.515,"b":0.02},
{"s":"WL= 60","g":"a","d":"dashed","i":8,"p":0.495,"b":0.027},
{"s":"WL= 60","g":"a","d":"dashed","i":9,"p":0.486,"b":0.032},
{"s":"WL= 60","g":"a","d":"dashed","i":10,"p":0.482,"b":0.038},
{"s":"WL= 60","g":"b","d":"solid","i":0,"p":0.482,"b":0.038},
{"s":"WL= 60","g":"b","d":"solid","i":1,"p":0.484,"b":0.046},
{"s":"WL= 60","g":"b","d":"solid","i":2,"p":0.49,"b":0.053},
{"s":"WL= 60","g":"b","d":"solid","i":3,"p":0.5,"b":0.06},
{"s":"WL= 60","g":"b","d":"solid","i":4,"p":0.52,"b":0.068},
{"s":"WL= 60","g":"b","d":"solid","i":5,"p":0.55,"b":0.0755},
{"s":"WL= 60","g":"b","d":"solid","i":6,"p":0.59,"b":0.082},
{"s":"WL= 60","g":"b","d":"solid","i":7,"p":0.63,"b":0.0865},
{"s":"WL= 60","g":"b","d":"solid","i":8,"p":0.67,"b":0.0895},
{"s":"WL= 60","g":"b","d":"solid","i":9,"p":0.69,"b":0.0903},
{"s":"WL= 60","g":"b","d":"solid","i":10,"p":0.7,"b":0.0895},
{"s":"WL= 60","g":"b","d":"solid","i":11,"p":0.7045,"b":0.0875},
{"s":"WL= 60","g":"c","d":"dashed","i":0,"p":0.7045,"b":0.0875},
{"s":"WL= 60","g":"c","d":"dashed","i":1,"p":0.697,"b":0.082},
{"s":"WL= 60","g":"c","d":"dashed","i":2,"p":0.685,"b":0.074},
{"s":"WL= 60","g":"c","d":"dashed","i":3,"p":0.672,"b":0.065},
{"s":"WL= 60","g":"c","d":"dashed","i":4,"p":0.66,"b":0.055},
{"s":"WL= 60","g":"c","d":"dashed","i":5,"p":0.65,"b":0.045},
{"s":"WL= 60","g":"c","d":"dashed","i":6,"p":0.645,"b":0.035},
{"s":"WL= 60","g":"c","d":"dashed","i":7,"p":0.646,"b":0.026},
{"s":"WL= 60","g":"c","d":"dashed","i":8,"p":0.655,"b":0.018},
{"s":"WL= 60","g":"c","d":"dashed","i":9,"p":0.675,"b":0.012},
{"s":"WL= 60","g":"c","d":"dashed","i":10,"p":0.72,"b":0.007},
{"s":"WL= 60","g":"c","d":"dashed","i":11,"p":0.8,"b":0.003},
{"s":"WL= 60","g":"c","d":"dashed","i":12,"p":0.9,"b":0.001},
{"s":"WL= 60","g":"c","d":"dashed","i":13,"p":1.0,"b":0},

{"s":"WL= 80","g":"a","d":"dashed","i":0,"p":1.0,"b":0},
{"s":"WL= 80","g":"a","d":"dashed","i":1,"p":0.9,"b":0.0015},
{"s":"WL= 80","g":"a","d":"dashed","i":2,"p":0.8,"b":0.003},
{"s":"WL= 80","g":"a","d":"dashed","i":3,"p":0.7,"b":0.0055},
{"s":"WL= 80","g":"a","d":"dashed","i":4,"p":0.6,"b":0.009},
{"s":"WL= 80","g":"a","d":"dashed","i":5,"p":0.54,"b":0.012},
{"s":"WL= 80","g":"a","d":"dashed","i":6,"p":0.5,"b":0.0155},
{"s":"WL= 80","g":"a","d":"dashed","i":7,"p":0.475,"b":0.019},
{"s":"WL= 80","g":"a","d":"dashed","i":8,"p":0.462,"b":0.022},
{"s":"WL= 80","g":"a","d":"dashed","i":9,"p":0.457,"b":0.024},
{"s":"WL= 80","g":"a","d":"dashed","i":10,"p":0.455,"b":0.026},
{"s":"WL= 80","g":"b","d":"solid","i":0,"p":0.455,"b":0.026},
{"s":"WL= 80","g":"b","d":"solid","i":1,"p":0.456,"b":0.033},
{"s":"WL= 80","g":"b","d":"solid","i":2,"p":0.46,"b":0.04},
{"s":"WL= 80","g":"b","d":"solid","i":3,"p":0.47,"b":0.048},
{"s":"WL= 80","g":"b","d":"solid","i":4,"p":0.49,"b":0.057},
{"s":"WL= 80","g":"b","d":"solid","i":5,"p":0.52,"b":0.065},
{"s":"WL= 80","g":"b","d":"solid","i":6,"p":0.55,"b":0.07},
{"s":"WL= 80","g":"b","d":"solid","i":7,"p":0.58,"b":0.074},
{"s":"WL= 80","g":"b","d":"solid","i":8,"p":0.605,"b":0.0765},
{"s":"WL= 80","g":"b","d":"solid","i":9,"p":0.625,"b":0.0765},
{"s":"WL= 80","g":"b","d":"solid","i":10,"p":0.634,"b":0.075},
{"s":"WL= 80","g":"c","d":"dashed","i":0,"p":0.634,"b":0.075},
{"s":"WL= 80","g":"c","d":"dashed","i":1,"p":0.628,"b":0.07},
{"s":"WL= 80","g":"c","d":"dashed","i":2,"p":0.617,"b":0.062},
{"s":"WL= 80","g":"c","d":"dashed","i":3,"p":0.605,"b":0.054},
{"s":"WL= 80","g":"c","d":"dashed","i":4,"p":0.593,"b":0.046},
{"s":"WL= 80","g":"c","d":"dashed","i":5,"p":0.583,"b":0.039},
{"s":"WL= 80","g":"c","d":"dashed","i":6,"p":0.578,"b":0.032},
{"s":"WL= 80","g":"c","d":"dashed","i":7,"p":0.58,"b":0.025},
{"s":"WL= 80","g":"c","d":"dashed","i":8,"p":0.59,"b":0.02},
{"s":"WL= 80","g":"c","d":"dashed","i":9,"p":0.615,"b":0.015},
{"s":"WL= 80","g":"c","d":"dashed","i":10,"p":0.68,"b":0.009},
{"s":"WL= 80","g":"c","d":"dashed","i":11,"p":0.75,"b":0.0055},
{"s":"WL= 80","g":"c","d":"dashed","i":12,"p":0.85,"b":0.0025},
{"s":"WL= 80","g":"c","d":"dashed","i":13,"p":0.93,"b":0.001},
{"s":"WL= 80","g":"c","d":"dashed","i":14,"p":1.0,"b":0},

{"s":"WL=100","g":"a","d":"dashed","i":0,"p":1.0,"b":0},
{"s":"WL=100","g":"a","d":"dashed","i":1,"p":0.9,"b":0.001},
{"s":"WL=100","g":"a","d":"dashed","i":2,"p":0.8,"b":0.002},
{"s":"WL=100","g":"a","d":"dashed","i":3,"p":0.7,"b":0.0035},
{"s":"WL=100","g":"a","d":"dashed","i":4,"p":0.6,"b":0.0055},
{"s":"WL=100","g":"a","d":"dashed","i":5,"p":0.537,"b":0.0072},
{"s":"WL=100","g":"a","d":"dashed","i":6,"p":0.5,"b":0.0095},
{"s":"WL=100","g":"a","d":"dashed","i":7,"p":0.476,"b":0.0128},
{"s":"WL=100","g":"a","d":"dashed","i":8,"p":0.4556,"b":0.0196},
{"s":"WL=100","g":"a","d":"dashed","i":9,"p":0.4457,"b":0.024},
{"s":"WL=100","g":"b","d":"solid","i":0,"p":0.4457,"b":0.024},
{"s":"WL=100","g":"b","d":"solid","i":1,"p":0.4465,"b":0.03},
{"s":"WL=100","g":"b","d":"solid","i":2,"p":0.45,"b":0.036},
{"s":"WL=100","g":"b","d":"solid","i":3,"p":0.458,"b":0.043},
{"s":"WL=100","g":"b","d":"solid","i":4,"p":0.47,"b":0.049},
{"s":"WL=100","g":"b","d":"solid","i":5,"p":0.49,"b":0.055},
{"s":"WL=100","g":"b","d":"solid","i":6,"p":0.515,"b":0.06},
{"s":"WL=100","g":"b","d":"solid","i":7,"p":0.54,"b":0.0635},
{"s":"WL=100","g":"b","d":"solid","i":8,"p":0.565,"b":0.066},
{"s":"WL=100","g":"b","d":"solid","i":9,"p":0.585,"b":0.0675},
{"s":"WL=100","g":"b","d":"solid","i":10,"p":0.598,"b":0.068},
{"s":"WL=100","g":"b","d":"solid","i":11,"p":0.604,"b":0.0675},
{"s":"WL=100","g":"c","d":"dashed","i":0,"p":0.604,"b":0.0675},
{"s":"WL=100","g":"c","d":"dashed","i":1,"p":0.599,"b":0.063},
{"s":"WL=100","g":"c","d":"dashed","i":2,"p":0.5878,"b":0.0566},
{"s":"WL=100","g":"c","d":"dashed","i":3,"p":0.5726,"b":0.0476},
{"s":"WL=100","g":"c","d":"dashed","i":4,"p":0.5626,"b":0.0375},
{"s":"WL=100","g":"c","d":"dashed","i":5,"p":0.5574,"b":0.0297},
{"s":"WL=100","g":"c","d":"dashed","i":6,"p":0.5675,"b":0.0196},
{"s":"WL=100","g":"c","d":"dashed","i":7,"p":0.583,"b":0.014},
{"s":"WL=100","g":"c","d":"dashed","i":8,"p":0.603,"b":0.0105},
{"s":"WL=100","g":"c","d":"dashed","i":9,"p":0.6487,"b":0.0065},
{"s":"WL=100","g":"c","d":"dashed","i":10,"p":0.74,"b":0.0038},
{"s":"WL=100","g":"c","d":"dashed","i":11,"p":0.85,"b":0.0018},
{"s":"WL=100","g":"c","d":"dashed","i":12,"p":1.0,"b":0}
]
},
"hconcat": [
{
  "width": 332, "height": 262,
  "view": {"stroke": "#222", "strokeWidth": 1},
  "resolve": {"axis": {"x": "independent", "y": "independent"}},
  "layer": [
    {
      "data": {"name": "R"},
      "mark": {"type": "line", "strokeWidth": 1.4, "clip": true},
      "encoding": {
        "x": {"field": "p", "type": "quantitative", "scale": {"domain": [0.17, 0.5257], "nice": false, "zero": false},
              "axis": {"values": [0.2, 0.25, 0.3, 0.35, 0.4, 0.45, 0.5], "labelExpr": "indexof(['0.2','0.3','0.4','0.5'], datum.label) >= 0 ? datum.label : ''", "tickColor": "#222", "title": "p", "titleFontStyle": "italic", "titleFontSize": 24, "titleX": 158, "titleY": 25, "titleAlign": "center", "titleBaseline": "alphabetic"}},
        "y": {"field": "b", "type": "quantitative", "scale": {"domain": [-0.104, 2.933], "nice": false, "zero": false},
              "axis": {"values": [0, 0.5, 1, 1.5, 2, 2.5], "tickColor": "#222", "title": "<b²>", "titleFontStyle": "italic", "titleFontSize": 22, "titleX": -40, "titleY": 141, "titleAlign": "center", "titleBaseline": "middle"}},
        "color": {"field": "s", "type": "nominal",
                  "scale": {"domain": ["Uniform States", "WL= 75", "WL=100", "WL=150", "WL=200", "WL=300", "WL=400", "WL=500"],
                            "range": ["#000000", "#ff2a2a", "#ff9a30", "#a4e81c", "#5cd80a", "#70ee88", "#6cc4ff", "#1c50f0"]},
                  "legend": {"legendX": 8, "legendY": 5}},
        "strokeDash": {"field": "d", "type": "nominal", "scale": {"domain": ["solid", "dashed"], "range": [[1, 0], [7, 4]]}, "legend": null},
        "detail": {"field": "g"},
        "order": {"field": "i", "type": "quantitative"}
      }
    },
    {
      "data": {"values": [{"t": "R model"}]},
      "mark": {"type": "text", "fontSize": 18.5, "font": "Liberation Serif, DejaVu Serif, serif", "color": "#111", "baseline": "alphabetic", "align": "center"},
      "encoding": {
        "text": {"field": "t"},
        "x": {"datum": 0.3711, "type": "quantitative", "axis": {"orient": "top", "values": [0.2, 0.25, 0.3, 0.35, 0.4, 0.45, 0.5], "labels": false, "title": null, "tickColor": "#222"}},
        "y": {"datum": 2.665, "type": "quantitative", "axis": {"orient": "right", "values": [0, 0.5, 1, 1.5, 2, 2.5], "labels": false, "title": null, "tickColor": "#222"}}
      }
    }
  ]
},
{
  "width": 332, "height": 263,
  "view": {"stroke": "#808080", "strokeWidth": 1},
  "resolve": {"axis": {"x": "independent", "y": "independent"}},
  "layer": [
    {
      "data": {"name": "SG"},
      "mark": {"type": "line", "strokeWidth": 1.4, "clip": true},
      "encoding": {
        "x": {"field": "p", "type": "quantitative", "scale": {"domain": [0.4356, 1.4468], "nice": false, "zero": false},
              "axis": {"values": [0.5, 0.6, 0.7, 0.8, 0.9, 1, 1.1, 1.2, 1.3, 1.4], "labelExpr": "indexof(['0.6','0.8','1','1.2','1.4'], datum.label) >= 0 ? datum.label : ''", "tickColor": "#808080", "title": "p", "titleFontStyle": "italic", "titleFontSize": 24, "titleX": 167, "titleY": 25, "titleAlign": "center", "titleBaseline": "alphabetic"}},
        "y": {"field": "b", "type": "quantitative", "scale": {"domain": [-0.003, 0.1741], "nice": false, "zero": false},
              "axis": {"values": [0, 0.02, 0.04, 0.06, 0.08, 0.1, 0.12, 0.14, 0.16], "labelExpr": "indexof(['0','0.04','0.08','0.12','0.16'], datum.label) >= 0 ? datum.label : ''", "tickColor": "#808080", "title": "<b²>", "titleFontStyle": "italic", "titleFontSize": 22, "titleX": -42, "titleY": 123, "titleAlign": "center", "titleBaseline": "middle"}},
        "color": {"field": "s", "type": "nominal",
                  "scale": {"domain": ["Uniform States", "WL= 15", "WL= 20", "WL= 30", "WL= 40", "WL= 60", "WL= 80", "WL=100"],
                            "range": ["#000000", "#ff2a2a", "#ff9a30", "#a4e81c", "#5cd80a", "#70ee88", "#6cc4ff", "#1c50f0"]},
                  "legend": {"legendX": 221, "legendY": 139}},
        "strokeDash": {"field": "d", "type": "nominal", "scale": {"domain": ["solid", "dashed"], "range": [[1, 0], [7, 4]]}, "legend": null},
        "detail": {"field": "g"},
        "order": {"field": "i", "type": "quantitative"}
      }
    },
    {
      "data": {"values": [{"t": "SG model"}]},
      "mark": {"type": "text", "fontSize": 18.5, "font": "Liberation Serif, DejaVu Serif, serif", "color": "#111", "baseline": "alphabetic", "align": "center"},
      "encoding": {
        "text": {"field": "t"},
        "x": {"datum": 0.9349, "type": "quantitative", "axis": {"orient": "top", "values": [0.5, 0.6, 0.7, 0.8, 0.9, 1, 1.1, 1.2, 1.3, 1.4], "labels": false, "title": null, "tickColor": "#808080"}},
        "y": {"datum": 0.1593, "type": "quantitative", "axis": {"orient": "right", "values": [0, 0.02, 0.04, 0.06, 0.08, 0.1, 0.12, 0.14, 0.16], "labels": false, "title": null, "tickColor": "#808080"}}
      }
    }
  ]
}
]
}
